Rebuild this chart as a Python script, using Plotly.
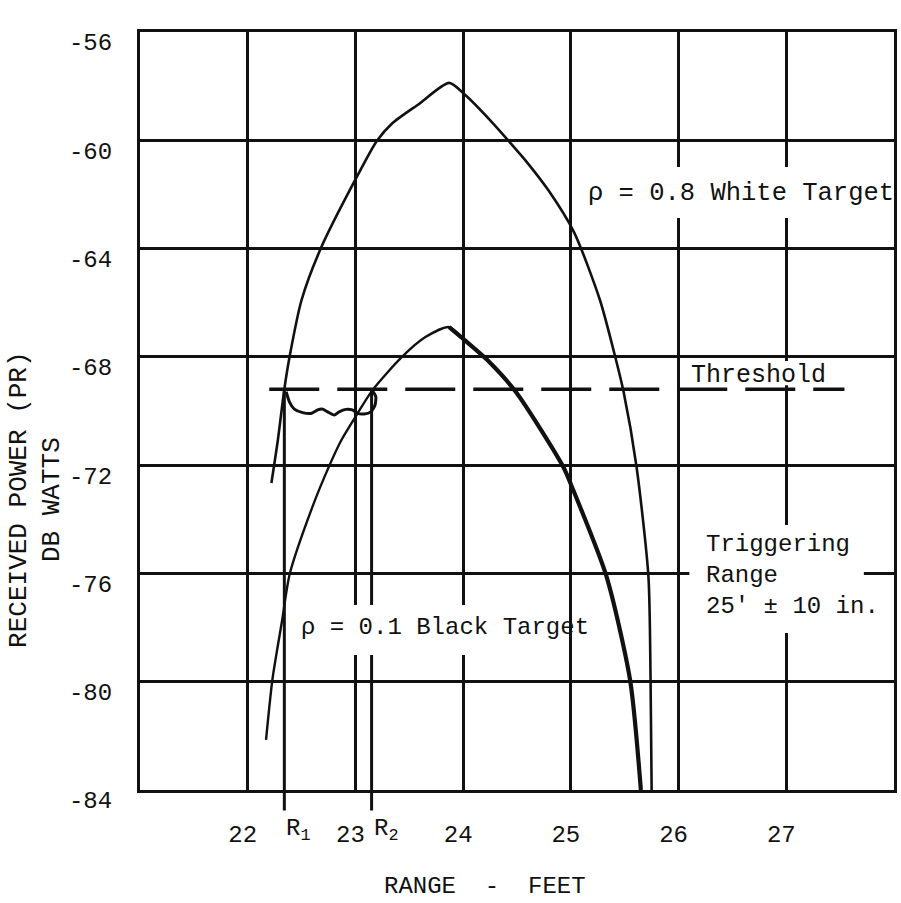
import plotly.graph_objects as go

# Received power (dB W) against range (ft) for two target reflectivities
white_range = [22.22, 22.28, 22.34, 22.39, 22.50, 22.68, 23.02, 23.20, 23.34, 23.59,
               23.87, 24.02, 24.26, 24.45, 24.58, 24.79, 25.03, 25.27, 25.41, 25.49,
               25.61, 25.72, 25.74, 25.75]
white_power = [-72.66, -71.07, -69.19, -67.97, -65.90, -63.98, -61.30, -60.02, -59.38, -58.66,
               -57.88, -58.33, -59.30, -60.15, -60.75, -61.84, -63.40, -65.90, -67.97, -69.30,
               -72.07, -76.10, -79.94, -84.00]

black_range = [22.17, 22.23, 22.32, 22.39, 22.60, 22.76, 22.87, 23.01, 23.16, 23.43,
               23.65, 23.87, 24.02, 24.22, 24.49, 24.93, 25.02, 25.33, 25.55, 25.65]
black_power = [-82.15, -79.90, -77.72, -76.02, -73.55, -72.00, -71.07, -70.15, -69.22, -68.01,
               -67.27, -66.90, -67.40, -68.10, -69.30, -72.07, -72.90, -76.10, -79.94, -84.00]

# Detector output ripple between R1 and R2
ripple_range = [22.357, 22.387, 22.433, 22.510, 22.588, 22.649, 22.695, 22.741, 22.803, 22.849,
                22.911, 22.972, 23.019, 23.081, 23.143, 23.182, 23.189, 23.157]
ripple_power = [-69.29, -69.66, -69.93, -70.06, -70.09, -69.96, -69.93, -70.03, -70.15, -70.03,
                -69.94, -69.96, -70.09, -70.11, -70.03, -69.78, -69.47, -69.25]

threshold_power = -69.2
threshold_span = [22.2, 27.54]
R1 = 22.34
R2 = 23.15

x_ticks = [22, 23, 24, 25, 26, 27]
y_ticks = [-84, -80, -76, -72, -68, -64, -60, -56]
X_MIN, X_MAX = 21, 28
Y_MIN, Y_MAX = -84, -56

INK = "#111111"
FONT = "Liberation Mono"

fig = go.Figure()

curve = dict(color=INK, shape="spline", smoothing=0.7)
fig.add_trace(go.Scatter(x=white_range, y=white_power, mode="lines",
                         line=dict(width=2.6, **curve), showlegend=False, hoverinfo="skip"))
fig.add_trace(go.Scatter(x=black_range, y=black_power, mode="lines",
                         line=dict(width=2.4, **curve), showlegend=False, hoverinfo="skip"))
# heavier pen stroke on the falling side of the black-target curve
peak = black_power.index(max(black_power))
fig.add_trace(go.Scatter(x=black_range[peak:], y=black_power[peak:], mode="lines",
                         line=dict(width=4.2, **curve), showlegend=False, hoverinfo="skip"))
fig.add_trace(go.Scatter(x=ripple_range, y=ripple_power, mode="lines",
                         line=dict(color=INK, width=3, shape="spline", smoothing=0.6),
                         showlegend=False, hoverinfo="skip"))
fig.add_trace(go.Scatter(x=threshold_span, y=[threshold_power, threshold_power], mode="lines",
                         line=dict(color=INK, width=3.5, dash="50px,18px"),
                         showlegend=False, hoverinfo="skip"))

# R1 / R2 drop lines from the threshold crossing to just below the axis
thr_paper = (threshold_power - Y_MIN) / (Y_MAX - Y_MIN)
for r in (R1, R2):
    fig.add_shape(type="line", xref="x", yref="paper", x0=r, x1=r, y0=thr_paper, y1=-0.027,
                  line=dict(color=INK, width=3), layer="between")

# white patches behind the lettering that interrupt the grid
for x0, x1, y0, y1 in [(25.11, 28.0, -60.99, -62.87),
                       (22.46, 24.88, -77.17, -79.01),
                       (26.10, 27.72, -74.21, -78.20),
                       (26.07, 27.47, -68.15, -69.05)]:
    fig.add_shape(type="rect", xref="x", yref="y", x0=x0, x1=x1, y0=y0, y1=y1,
                  fillcolor="white", line=dict(width=0), layer="between")

txt = dict(family=FONT, size=25, color=INK)
fig.add_annotation(x=25.14, y=-61.95, text="ρ = 0.8 White Target", showarrow=False,
                   xanchor="left", yanchor="middle", font=dict(family=FONT, size=25.5, color=INK))
fig.add_annotation(x=22.48, y=-77.98, text="ρ = 0.1 Black Target", showarrow=False,
                   xanchor="left", yanchor="middle", font=dict(family=FONT, size=24, color=INK))
fig.add_annotation(x=26.24, y=-76.06, text="Triggering<br>Range<br>25' ± 10 in.",
                   showarrow=False, xanchor="left", yanchor="middle", align="left",
                   font=dict(family=FONT, size=24, color=INK))
fig.add_annotation(x=26.10, y=threshold_power, text="Threshold", showarrow=False,
                   xanchor="left", yanchor="bottom", yshift=-3, font=txt)

# R1 / R2 labels on the range axis
for r, sub in ((R1, "1"), (R2, "2")):
    fig.add_annotation(x=r, y=Y_MIN, text=f"R<sub>{sub}</sub>", showarrow=False,
                       xanchor="left", yanchor="middle", yshift=-40,
                       font=dict(family=FONT, size=24, color=INK))

# axis titles
fig.add_annotation(xref="paper", yref="paper", x=0.458, y=-0.127,
                   text="RANGE\u00a0\u00a0-\u00a0\u00a0FEET", showarrow=False,
                   xanchor="center", yanchor="middle",
                   font=dict(family=FONT, size=24, color=INK))
fig.add_annotation(xref="paper", yref="paper", x=-0.139, y=0.383,
                   text="RECEIVED POWER (PR)<br>DB WATTS", textangle=-90, showarrow=False,
                   xanchor="center", yanchor="middle",
                   font=dict(family=FONT, size=26, color=INK))

axis_common = dict(showline=True, mirror=True, linecolor=INK, linewidth=3,
                   showgrid=True, gridcolor=INK, gridwidth=2.5, zeroline=False,
                   ticks="", tickfont=dict(family=FONT, size=24, color=INK))

fig.update_xaxes(range=[X_MIN, X_MAX], tickvals=x_ticks, ticktext=[str(v) for v in x_ticks],
                 ticklabelstandoff=20, ticklabelshift=-5, **axis_common)
fig.update_yaxes(range=[Y_MIN, Y_MAX], tickvals=y_ticks, ticktext=[str(v) for v in y_ticks],
                 ticklabelstandoff=20, ticklabelshift=10, **axis_common)

fig.update_layout(width=901, height=903, paper_bgcolor="white", plot_bgcolor="white",
                  margin=dict(l=140, r=4, t=32, b=113), showlegend=False)

fig.write_html("out.html")
